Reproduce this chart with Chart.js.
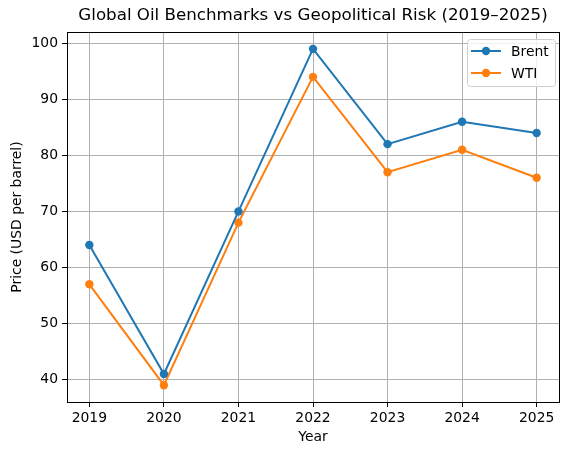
<!DOCTYPE html>
<html>
<head>
<meta charset="utf-8">
<script src="https://cdn.jsdelivr.net/npm/chart.js@4"></script>
<style>
  html, body { margin: 0; padding: 0; background: #fff; }
  #wrap { width: 571px; height: 455px; }
</style>
</head>
<body>
<div id="wrap"><canvas id="oilChart" width="571" height="455"></canvas></div>
<script>
// Data
const years = [2019, 2020, 2021, 2022, 2023, 2024, 2025];
const brent = [64, 41, 70, 99, 82, 86, 84];
const wti = [57, 39, 68, 94, 77, 81, 76];
const yTicks = [40, 50, 60, 70, 80, 90, 100];

const FONT = "'DejaVu Sans', sans-serif";
const FS = 13.9;

// Cadre noir + légende façon matplotlib
const framePlugin = {
    id: 'frame',
    afterDraw(chart) {
        const { ctx, chartArea: a } = chart;
        ctx.save();
        ctx.strokeStyle = '#000';
        ctx.lineWidth = 1;
        ctx.strokeRect(Math.round(a.left) + 0.5, Math.round(a.top) + 0.5,
            Math.round(a.right - a.left), Math.round(a.bottom - a.top));

        // légende
        const bx = 467, by = 39, bw = 88, bh = 47;
        ctx.fillStyle = 'rgba(255,255,255,0.8)';
        ctx.strokeStyle = '#d0d0d0';
        ctx.beginPath();
        ctx.roundRect(bx + 0.5, by + 0.5, bw, bh, 3);
        ctx.fill();
        ctx.stroke();
        chart.data.datasets.forEach((ds, i) => {
            const y = by + 12 + i * 22;
            ctx.strokeStyle = ds.borderColor;
            ctx.lineWidth = 2;
            ctx.beginPath();
            ctx.moveTo(471, y);
            ctx.lineTo(501, y);
            ctx.stroke();
            ctx.fillStyle = ds.borderColor;
            ctx.beginPath();
            ctx.arc(486, y, 4.2, 0, Math.PI * 2);
            ctx.fill();
            ctx.fillStyle = '#000';
            ctx.font = FS + 'px ' + FONT;
            ctx.textBaseline = 'middle';
            ctx.textAlign = 'left';
            ctx.fillText(ds.label, 511, y + 1);
        });
        ctx.restore();
    }
};

const makeSeries = (label, values, color) => ({
    label: label,
    data: years.map((y, i) => ({ x: y, y: values[i] })),
    borderColor: color,
    backgroundColor: color,
    borderWidth: 2,
    pointRadius: 4.2,
    pointHoverRadius: 4.2,
    pointBorderWidth: 0,
    tension: 0
});

new Chart(document.getElementById('oilChart'), {
    type: 'line',
    data: {
        datasets: [
            makeSeries('Brent', brent, '#1f77b4'),
            makeSeries('WTI', wti, '#ff7f0e')
        ]
    },
    options: {
        responsive: false,
        animation: false,
        devicePixelRatio: 1,
        layout: { padding: { left: 9, right: 12, top: 0, bottom: 9 } },
        plugins: {
            legend: { display: false },
            tooltip: { enabled: false },
            title: {
                display: true,
                fullSize: false,
                text: 'Global Oil Benchmarks vs Geopolitical Risk (2019\u20132025)',
                color: '#000',
                font: { family: FONT, size: 16.7, weight: 'normal', lineHeight: 1.2 },
                padding: { top: 6, bottom: 6 }
            }
        },
        scales: {
            x: {
                type: 'linear',
                min: 2018.7,
                max: 2025.3,
                afterBuildTicks: (scale) => { scale.ticks = years.map(v => ({ value: v })); },
                afterFit: (scale) => { scale.height = 44; },
                ticks: {
                    color: '#000',
                    font: { family: FONT, size: FS },
                    padding: 3,
                    callback: v => String(v),
                    maxRotation: 0
                },
                grid: { color: '#b0b0b0', lineWidth: 1, tickColor: '#000', tickLength: 5 },
                border: { display: true, color: '#000' },
                title: {
                    display: true,
                    text: 'Year',
                    color: '#000',
                    font: { family: FONT, size: FS },
                    padding: { top: 2, bottom: 0 }
                }
            },
            y: {
                min: 36,
                max: 102,
                afterBuildTicks: (scale) => { scale.ticks = yTicks.map(v => ({ value: v })); },
                afterFit: (scale) => { scale.width = 58; },
                ticks: {
                    color: '#000',
                    font: { family: FONT, size: FS },
                    padding: 4
                },
                grid: { color: '#b0b0b0', lineWidth: 1, tickColor: '#000', tickLength: 5 },
                border: { display: true, color: '#000' },
                title: {
                    display: true,
                    text: 'Price (USD per barrel)',
                    color: '#000',
                    font: { family: FONT, size: FS },
                    padding: { top: 0, bottom: 4 }
                }
            }
        }
    },
    plugins: [framePlugin]
});
</script>
</body>
</html>
